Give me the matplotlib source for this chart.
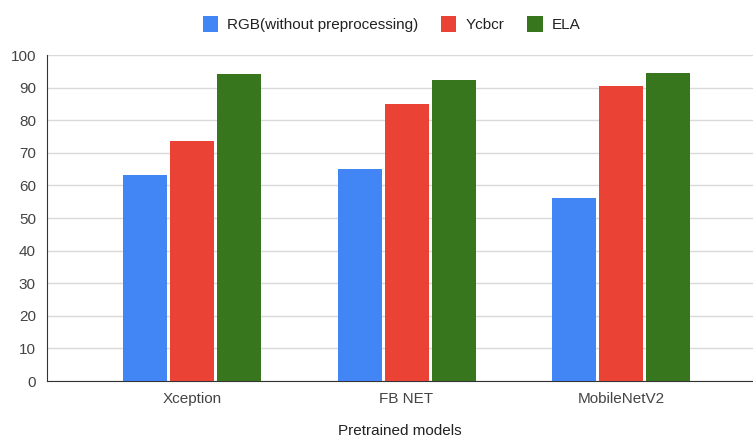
import numpy as np
import matplotlib.pyplot as plt

models = ["Xception", "FB NET", "MobileNetV2"]
rgb = [63.2, 65.2, 56.1]
ycbcr = [73.7, 85.0, 90.5]
ela = [94.1, 92.5, 94.4]

series = [("RGB(without preprocessing)", rgb, "#4285F4"),
          ("Ycbcr", ycbcr, "#EA4335"),
          ("ELA", ela, "#38761D")]

plt.rcParams['font.family'] = ['Liberation Sans', 'DejaVu Sans']

fig = plt.figure(figsize=(7.53, 4.41), dpi=100)
ax = fig.add_axes([0.0624, 0.136, 0.9376, 0.739])

x = np.arange(len(models))
width = 0.205
step = 0.219
for i, (name, vals, color) in enumerate(series):
    ax.bar(x + (i - 1) * step, vals, width, color=color, label=name, zorder=3)

ax.set_xlim(-0.676, 2.615)
ax.set_ylim(0, 100)
ax.set_yticks(range(0, 101, 10))
ax.set_xticks(x)
ax.set_xticklabels(models)
ax.grid(axis='y', color='#d9d9d9', linewidth=1, zorder=0)
for s in ['top', 'right']:
    ax.spines[s].set_visible(False)
ax.spines['left'].set_color('#333333')
ax.spines['bottom'].set_color('#333333')
ax.tick_params(length=0, labelsize=11, colors='#444444', pad=8)
ax.set_xlabel("Pretrained models", fontsize=11, color='#222222', labelpad=13)

fig.legend(loc='upper center', bbox_to_anchor=(0.52, 0.995), ncol=3, frameon=False,
           fontsize=11, handlelength=1.0, handleheight=1.2, columnspacing=1.5,
           handletextpad=0.6, labelcolor='#222222')

fig.savefig("out.png", dpi=100)
